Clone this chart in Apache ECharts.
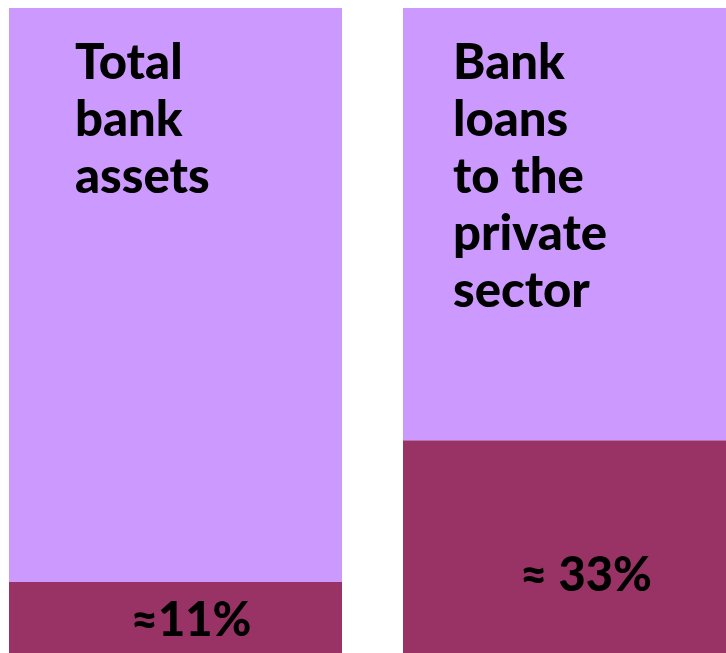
<!DOCTYPE html>
<html>
<head>
<meta charset="utf-8">
<style>
  html, body { margin: 0; padding: 0; background: #ffffff; }
  #chart { width: 726px; height: 653px; }
</style>
<script src="https://cdn.jsdelivr.net/npm/echarts@6/dist/echarts.min.js"></script>
</head>
<body>
<div id="chart"></div>
<script>
// Categories and their headings (one word per line, as printed in the columns)
const categories = ['Total bank assets', 'Bank loans to the private sector'];
const headings = ['Total\nbank\nassets', 'Bank\nloans\nto the\nprivate\nsector'];

// Share of each total (percent) and the remainder of the column
const sharePct = [11, 33];
const restPct = [89, 67];
const shareLabels = ['≈11%', '≈ 33%'];

const FONT = 'Lato, "Open Sans", sans-serif';
const LIGHT = '#CC99FF';
const DARK = '#993366';

// Label anchor points inside each bar segment (relative to the segment's top-left)
const headingPos = [[66, 27], [50, 27]];
const sharePos = [[182, 39], [183, 136]];

const chart = echarts.init(document.getElementById('chart'), null, { renderer: 'canvas' });

chart.setOption({
  animation: false,
  backgroundColor: '#ffffff',
  grid: { left: -21.5, width: 788, top: 8, bottom: 0, outerBoundsMode: 'none' },
  xAxis: {
    type: 'category',
    data: categories,
    show: false
  },
  yAxis: {
    type: 'value',
    min: 0,
    max: 100,
    show: false
  },
  series: [
    {
      name: 'share',
      type: 'bar',
      stack: 'total',
      barWidth: 333,
      itemStyle: { color: DARK },
      data: sharePct.map((v, i) => ({
        value: v,
        label: {
          show: true,
          position: sharePos[i],
          align: 'center',
          verticalAlign: 'middle',
          formatter: () => shareLabels[i],
          color: '#000000',
          fontFamily: FONT,
          fontWeight: 900,
          fontSize: 47
        }
      }))
    },
    {
      name: 'rest',
      type: 'bar',
      stack: 'total',
      barWidth: 333,
      itemStyle: { color: LIGHT },
      data: restPct.map((v, i) => ({
        value: v,
        label: {
          show: true,
          position: headingPos[i],
          align: 'left',
          verticalAlign: 'top',
          formatter: () => headings[i],
          color: '#000000',
          fontFamily: FONT,
          fontWeight: 900,
          fontSize: 49,
          lineHeight: 57
        }
      }))
    }
  ]
});
</script>
</body>
</html>
